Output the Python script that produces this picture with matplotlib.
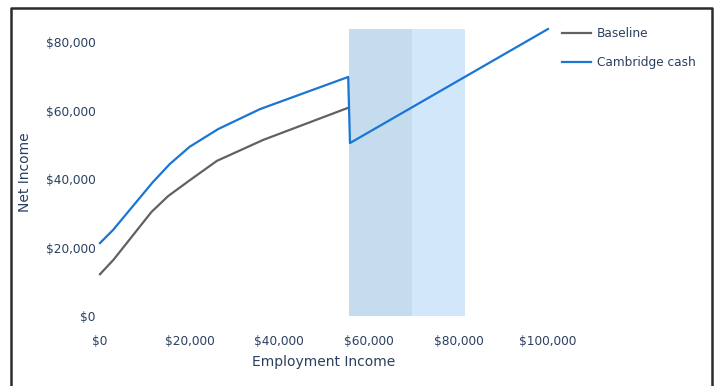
import matplotlib.pyplot as plt
from matplotlib.lines import Line2D
from matplotlib.ticker import FuncFormatter

# values
baseline_income = [0, 3000, 11500, 15200, 20000, 26100, 36400, 55400]
baseline_net = [12200, 16400, 30400, 35000, 39600, 45300, 51400, 60800]

cambridge_income = [0, 2900, 11800, 15600, 20000, 26400, 35700, 55400, 55800, 100000]
cambridge_net = [21300, 25100, 39100, 44400, 49400, 54600, 60400, 69800, 50500, 83800]

# shaded bands: (start, end)
band_dark = (55600, 69600)
band_light = (69600, 81500)
band_top = 83800

x_ticks = [0, 20000, 40000, 60000, 80000, 100000]
y_ticks = [0, 20000, 40000, 60000, 80000]

text_color = "#2a3f5f"
plt.rcParams["font.family"] = ["DejaVu Sans"]

fig = plt.figure(figsize=(7.17, 3.86), dpi=100)
W, H = 717, 386
ax = fig.add_axes([100 / W, 1 - 316 / H, 448 / W, 287 / H])

ax.fill_between(band_dark, 0, band_top, color="#c5dcef", linewidth=0, zorder=1)
ax.fill_between(band_light, 0, band_top, color="#d2e7fa", linewidth=0, zorder=1)

ax.plot(baseline_income, baseline_net, color="#616161", linewidth=1.6,
        label="Baseline", zorder=3, clip_on=False)
ax.plot(cambridge_income, cambridge_net, color="#1976d2", linewidth=1.6,
        label="Cambridge cash", zorder=4, clip_on=False)

ax.set_xlim(0, 100000)
ax.set_ylim(0, 83800)
ax.set_xticks(x_ticks)
ax.set_yticks(y_ticks)
money = FuncFormatter(lambda v, _: f"${v:,.0f}")
ax.xaxis.set_major_formatter(money)
ax.yaxis.set_major_formatter(money)
ax.tick_params(axis="both", length=0, labelsize=8.7, colors=text_color)
ax.tick_params(axis="x", pad=14)
ax.tick_params(axis="y", pad=3)
for s in ax.spines.values():
    s.set_visible(False)

ax.set_xlabel("Employment Income", fontsize=10, color=text_color, labelpad=5)
ax.set_ylabel("Net Income", fontsize=10, color=text_color, labelpad=10)

leg = ax.legend(loc="upper left", bbox_to_anchor=(551 / W, 1 - 16 / H),
                bbox_transform=fig.transFigure, frameon=False, fontsize=8.7,
                handlelength=2.4, handletextpad=0.5, labelspacing=1.35)
for t in leg.get_texts():
    t.set_color(text_color)

# dark frame around the figure (left, top, right edges)
fig.add_artist(Line2D([11 / W, 11 / W, 712 / W, 712 / W], [0, 1 - 8 / H, 1 - 8 / H, 0],
                      transform=fig.transFigure, color="#2b2b2b", linewidth=1.8))

fig.savefig("out.png", dpi=100)
